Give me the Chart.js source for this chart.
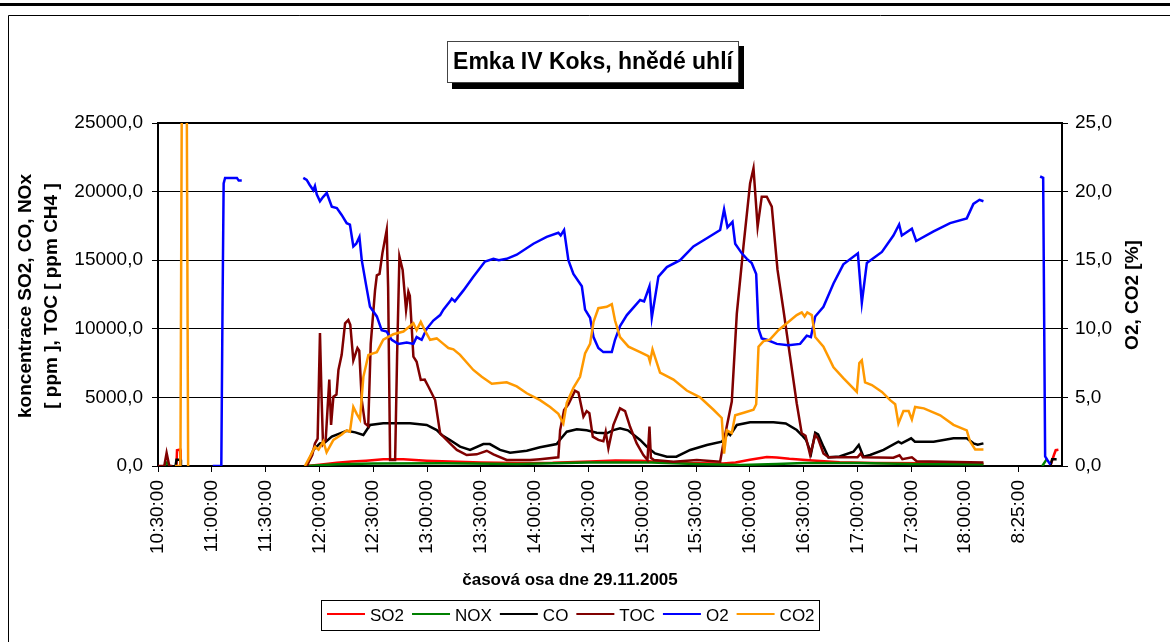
<!DOCTYPE html>
<html>
<head>
<meta charset="utf-8">
<title>Emka IV Koks, hnědé uhlí</title>
<script src="https://cdn.jsdelivr.net/npm/chart.js@4.4.0/dist/chart.umd.min.js"></script>
<style>
  html, body { margin: 0; padding: 0; background: #fff; }
  #chart { display: block; }
</style>
</head>
<body>
<canvas id="chart" width="1170" height="642"></canvas>
<script>
// x axis: minutes since 10:30:00, one tick label every 30 minutes
const TIME_LABELS = ['10:30:00','11:00:00','11:30:00','12:00:00','12:30:00','13:00:00','13:30:00',
  '14:00:00','14:30:00','15:00:00','15:30:00','16:00:00','16:30:00','17:00:00','17:30:00','18:00:00','8:25:00'];
const TICK_STEP = 30;
const X_MAX = 504;

// series as [minute, value]; null = no data (gap)
// left axis, ppm
const SO2 = [[10.3,0],[10.6,1150],[12.3,1200],[12.7,0],[13,null],
  [82.9,0],[90,100],[99.7,240],[108,320],[116,390],[125.6,490],[136.8,490],[149.8,390],[162.8,320],
  [180,250],[200,220],[220,230],[241,330],[255,400],[269,380],[285,250],[300,200],[315,180],[322,250],
  [330,450],[339.4,660],[345,620],[352,520],[365,400],[380,270],[400,220],[430,200],[460.2,160],[461,null],
  [497.5,0],[499.5,800],[500.5,1150],[502,1180]];

const NOX = [[3.5,0],[5,250],[6.5,0],[7,null],
  [82.9,0],[90,60],[100,120],[120,180],[160,200],[200,150],[240,250],[275,260],[300,150],[325,80],
  [345,150],[360,220],[390,220],[420,150],[460.2,130],[461,null],
  [493,0],[494.5,300],[495.5,500]];

const CO = [[9.8,0],[10.3,450],[12.3,450],[12.8,0],[13,null],
  [82.9,0],[86.6,1170],[90.3,1650],[93,1700],[96.9,2140],[101.5,2380],[105.2,2570],[110,2450],[114.5,2260],
  [118.2,2990],[125.6,3110],[140.5,3110],[149.8,2990],[155.4,2620],[158.2,2260],[162.8,1900],[168.4,1410],
  [174,1170],[181.4,1600],[185,1600],[190.7,1170],[196.3,970],[205.6,1110],[213,1360],[222.3,1600],
  [224,1900],[227.9,2500],[233.5,2670],[239,2600],[244.6,2430],[250.2,2380],[253.9,2620],[257.6,2750],
  [262,2600],[268.8,1900],[272.5,1410],[277.1,920],[283.7,680],[289,680],[296.7,1170],[306,1530],
  [314.3,1770],[318,2380],[319,2260],[322.7,2990],[330.1,3180],[343.1,3180],[350,3100],[356.1,2620],
  [358.9,2260],[361.3,1900],[364.1,920],[366.4,2430],[368,2300],[371,1410],[373.8,630],[380,700],
  [387.7,1040],[390.7,1530],[393.3,680],[397,800],[404.5,1170],[412.8,1770],[414.5,1650],[419.9,2020],
  [422,1770],[432.4,1770],[443.5,2020],[450.9,2020],[454.6,1650],[457,1550],[460.2,1650],[461,null],
  [497.5,0],[498.5,500],[501,500]];

const TOC = [[0,0],[3.5,0],[4.8,950],[6.3,0],[8,0],[8.5,null],
  [82.9,0],[86,800],[87.5,1650],[89,2000],[90.3,9700],[91.2,5000],[92,1600],[93.5,1900],[95.5,6300],
  [96.5,3000],[97.8,5050],[99.5,5200],[100.6,7000],[102.4,8100],[104.3,10400],[106.1,10640],[107.2,10300],
  [108.9,7700],[111.2,8600],[112.2,8400],[113.6,4800],[115.4,3100],[117.2,2900],[118.6,8900],[121,12800],
  [122,13900],[123.5,14000],[125.1,15500],[127.5,17200],[128.3,13000],[129.4,440],[132.2,440],[133.3,8000],
  [134.6,15260],[136.4,14290],[138.3,11370],[139.6,12700],[140.4,12400],[142.4,7970],[144.2,7600],
  [146.5,6270],[148.7,6300],[150.8,5780],[154.5,4810],[157.3,2380],[162.8,1650],[166.6,1170],[172.1,800],
  [177.7,850],[183.3,1110],[187,850],[194.4,440],[207.4,440],[213,500],[223.2,630],[224.2,2620],
  [226.4,4080],[228.8,4500],[232.5,5490],[234.4,5350],[237.2,3600],[239,4000],[240.5,3850],[242.4,2140],
  [245.5,1900],[248.3,1800],[249.6,2500],[251.1,1290],[253.9,3000],[257.6,4200],[260.4,4000],[263.2,2860],
  [266.9,1650],[270.6,800],[272.9,440],[274,2870],[274.8,600],[276.5,440],[287.4,310],[300.4,440],
  [313.4,310],[315.2,1650],[317.1,2870],[319.9,4700],[322.7,11100],[326.4,16000],[330.1,20600],[332,21700],
  [334.3,17450],[336.6,19630],[339.4,19630],[342.2,18900],[345.4,14290],[348.7,11370],[352.4,7970],
  [356.1,4570],[358.9,2380],[361,2200],[363.6,800],[366.4,2260],[368,2000],[371,920],[373.8,630],
  [390,630],[391.8,920],[393,630],[410,600],[413.4,780],[415,500],[420.3,630],[423,350],[460.2,260]];

// right axis, %
const O2 = [[30.5,0],[35.3,0],[36,12],[36.6,20.6],[37.4,21.0],[44,21.0],[45,20.8],[46.7,20.8],[47,null],
  [81,21.0],[82.9,20.85],[84.5,20.5],[86.6,20.1],[87.5,20.4],[88.5,19.8],[90.3,19.3],[92,19.6],[94.1,19.9],
  [96.9,18.9],[99.7,18.8],[102.4,18.3],[105.2,17.7],[107,17.6],[108.9,16.0],[110.5,16.2],[112.3,16.7],
  [113.6,15.0],[116,13.2],[118.2,11.6],[122,10.9],[124.7,9.9],[127.5,9.8],[130.3,9.2],[134,8.9],
  [138.7,9.0],[142.4,8.9],[144.2,9.4],[147,9.2],[149.8,10.0],[153.5,10.6],[157.3,11.0],[159.1,11.4],
  [162.8,12.0],[163.8,12.2],[165.5,12.0],[170.3,12.8],[175.8,13.8],[182.3,14.9],[187,15.1],[190,15.0],
  [194.4,15.1],[200,15.4],[209.3,16.2],[216.7,16.7],[223.2,17.0],[224.5,16.8],[226.4,17.2],[228.8,15.0],
  [231.6,14.0],[236.3,13.1],[238.1,11.4],[240.9,10.8],[242.8,9.4],[245.5,8.6],[248.3,8.3],[253,8.3],
  [254.8,9.2],[257.6,10.2],[261.4,11.0],[268.8,12.1],[271,12.0],[274,13.1],[275.3,10.8],[279,13.8],
  [283.7,14.5],[291.1,15.0],[298.5,16.0],[306,16.6],[313.4,17.2],[315.6,18.7],[317.5,17.4],[320.3,17.8],
  [321.8,16.2],[325.5,15.5],[328.3,15.1],[331,14.8],[333.5,14.0],[334.8,10.0],[336.6,9.3],[339.4,9.2],
  [345,8.9],[351.5,8.8],[358,8.9],[361.7,9.5],[364,9.4],[366.4,10.9],[371,11.6],[376.6,13.3],[382.1,14.7],
  [390.2,15.5],[392.4,11.9],[395.2,14.8],[403.6,15.6],[410,16.8],[413.2,17.6],[414.7,16.8],[420.3,17.3],
  [422.7,16.4],[432.4,17.1],[441.6,17.7],[450.9,18.05],[454.6,19.1],[458,19.4],[460.2,19.3],[461,null],
  [491.8,21.1],[493.5,21.0],[494.6,0.7],[496,0.4],[497.5,0.1]];

const CO2 = [[9.5,0],[12.5,0],[13.5,35],[15.8,35],[16.8,0],[17.5,0],[18,null],
  [81.9,0],[84.8,0.7],[87.5,1.4],[89.5,1.2],[92.2,1.8],[94,1.0],[97.8,1.9],[102.4,2.3],[105.2,2.6],
  [107,2.5],[108.9,4.3],[110.8,3.8],[112.6,3.4],[114.5,6.5],[117.3,8.1],[122,8.3],[125.6,9.2],[131.2,9.6],
  [136.8,9.8],[142.4,10.4],[144.2,9.9],[146.5,10.5],[148.7,9.9],[151.7,9.2],[155.4,9.3],[159.1,8.9],
  [161.9,8.6],[164.7,8.5],[168.4,8.1],[175.8,7.0],[180.5,6.5],[186.1,6.0],[194.4,6.1],[200,5.8],
  [205.6,5.3],[213,4.8],[218.6,4.3],[223.2,3.8],[226,3.1],[227.9,4.6],[231.6,5.7],[235.3,6.5],[238.1,8.2],
  [240.9,8.9],[242.8,10.5],[245.5,11.5],[250.2,11.6],[253,11.8],[254.8,10.6],[257.6,9.4],[262.3,8.7],
  [268.8,8.3],[273.4,8.0],[274.3,7.6],[275.7,8.5],[279.9,6.8],[287.4,6.3],[294.8,5.5],[302.2,5.0],
  [309.7,4.1],[314.3,3.5],[315.6,0.9],[317.1,2.6],[319.9,2.4],[321.8,3.7],[327,3.9],[332,4.1],[333.5,4.5],
  [334.8,8.7],[337.6,9.1],[341,9.2],[345.9,9.9],[350.6,10.4],[356.1,11.0],[358.9,11.2],[360.5,10.9],
  [362,11.2],[364.5,11.0],[366.4,9.4],[371,8.7],[376.6,7.2],[382.1,6.4],[389.6,5.4],[391,7.5],[392.4,7.7],
  [394.2,6.1],[398,5.9],[403.6,5.4],[408.2,4.8],[411,4.5],[412.8,3.1],[415.6,4.0],[418.5,4.0],[420.3,3.4],
  [422.1,4.3],[427,4.2],[436.1,3.7],[443.5,3.0],[450.9,2.6],[452.7,1.8],[455.6,1.2],[460.2,1.2]];

const FONT = '"Liberation Sans", Arial, sans-serif';
const pts = (arr)=>arr.map(p=>({x: p[0], y: p[1]}));
const comma = (v, d)=>Number(v).toFixed(d).replace('.', ',');

function series(label, data, color, axis, order){
  return { label, data: pts(data), borderColor: color, backgroundColor: color, borderWidth: 2.5,
    pointRadius: 0, tension: 0, spanGaps: false, yAxisID: axis, order };
}

// frame, title box, axis titles and legend box (Excel-like decorations)
const decor = {
  id: 'decor',
  beforeDraw(chart){
    const ctx = chart.ctx;
    ctx.save();
    ctx.fillStyle = '#fff';
    ctx.fillRect(0, 0, chart.width, chart.height);
    ctx.fillStyle = '#000';
    ctx.fillRect(0, 3, chart.width, 3);
    ctx.strokeStyle = '#000';
    ctx.lineWidth = 1;
    ctx.beginPath();
    ctx.moveTo(8.5, chart.height + 5);
    ctx.lineTo(8.5, 15.5);
    ctx.lineTo(chart.width + 5, 15.5);
    ctx.stroke();
    ctx.restore();
  },
  beforeDatasetsDraw(chart){
    const {left, top, right, bottom} = chart.chartArea;
    const ctx = chart.ctx;
    ctx.save();
    ctx.strokeStyle = '#000';
    ctx.lineWidth = 2;
    ctx.strokeRect(left, top, right - left, bottom - top);
    ctx.restore();
  },
  afterDraw(chart){
    const ctx = chart.ctx;
    ctx.save();
    // title with shadow
    ctx.fillStyle = '#000';
    ctx.fillRect(452, 46, 292, 43);
    ctx.fillStyle = '#fff';
    ctx.fillRect(447, 41, 292, 42);
    ctx.strokeStyle = '#444';
    ctx.lineWidth = 1;
    ctx.strokeRect(447.5, 41.5, 291, 41);
    ctx.fillStyle = '#000';
    ctx.font = 'bold 23px ' + FONT;
    ctx.textAlign = 'center';
    ctx.textBaseline = 'middle';
    ctx.fillText('Emka IV Koks, hnědé uhlí', 593, 63);

    // axis titles
    ctx.font = 'bold 19px ' + FONT;
    const vText = (t, x, y)=>{
      ctx.save(); ctx.translate(x, y); ctx.rotate(-Math.PI / 2); ctx.fillText(t, 0, 0); ctx.restore();
    };
    vText('koncentrace SO2, CO, NOx', 26, 296);
    vText('[ ppm ], TOC [ ppm CH4 ]', 52, 296);
    vText('O2, CO2 [%]', 1133, 295);
    ctx.font = 'bold 17px ' + FONT;
    ctx.fillText('časová osa dne 29.11.2005', 570, 580);

    // legend
    ctx.strokeStyle = '#000';
    ctx.strokeRect(321.5, 600.5, 498, 30);
    ctx.font = '17px ' + FONT;
    ctx.textAlign = 'left';
    let x = 327;
    chart.data.datasets.forEach(ds=>{
      ctx.strokeStyle = ds.borderColor;
      ctx.lineWidth = 2;
      ctx.beginPath();
      ctx.moveTo(x, 614);
      ctx.lineTo(x + 38, 614);
      ctx.stroke();
      x += 43;
      ctx.fillStyle = '#000';
      ctx.fillText(ds.label, x, 616);
      x += ctx.measureText(ds.label).width + 8;
    });
    ctx.restore();
  }
};

const tickFont = { family: FONT, size: 19 };

new Chart(document.getElementById('chart'), {
  type: 'line',
  data: {
    datasets: [
      series('SO2', SO2, '#FF0000', 'y', 5),
      series('NOX', NOX, '#008000', 'y', 4),
      series('CO', CO, '#000000', 'y', 3),
      series('TOC', TOC, '#800000', 'y', 2),
      series('O2', O2, '#0000FF', 'y2', 1),
      series('CO2', CO2, '#FF9900', 'y2', 0)
    ]
  },
  options: {
    responsive: false,
    devicePixelRatio: 1,
    animation: false,
    layout: { padding: { top: 123, left: 0, right: 0, bottom: 0 } },
    plugins: { legend: { display: false }, title: { display: false }, tooltip: { enabled: false } },
    scales: {
      x: {
        type: 'linear',
        position: 'bottom',
        min: 0,
        max: X_MAX,
        afterBuildTicks: (s)=>{ s.ticks = TIME_LABELS.map((t, i)=>({ value: i * TICK_STEP })); },
        afterFit: (s)=>{ s.height = 176; },
        ticks: {
          autoSkip: false, maxRotation: 90, minRotation: 90, padding: 8,
          color: '#000', font: tickFont,
          callback: (v)=>TIME_LABELS[Math.round(v / TICK_STEP)]
        },
        grid: { drawOnChartArea: false, drawTicks: true, tickLength: 6, color: '#000' },
        border: { display: false }
      },
      y: {
        position: 'left',
        min: 0,
        max: 25000,
        afterFit: (s)=>{ s.width = 158; },
        ticks: { stepSize: 5000, padding: 9, color: '#000', font: tickFont, callback: (v)=>comma(v, 1) },
        grid: { color: '#000', tickLength: 6, lineWidth: 1 },
        border: { display: false }
      },
      y2: {
        position: 'right',
        min: 0,
        max: 25,
        afterFit: (s)=>{ s.width = 108; },
        ticks: { stepSize: 5, padding: 7, color: '#000', font: tickFont, callback: (v)=>comma(v, 1) },
        grid: { drawOnChartArea: false, color: '#000', tickLength: 6 },
        border: { display: false }
      }
    }
  },
  plugins: [decor]
});
</script>
</body>
</html>
